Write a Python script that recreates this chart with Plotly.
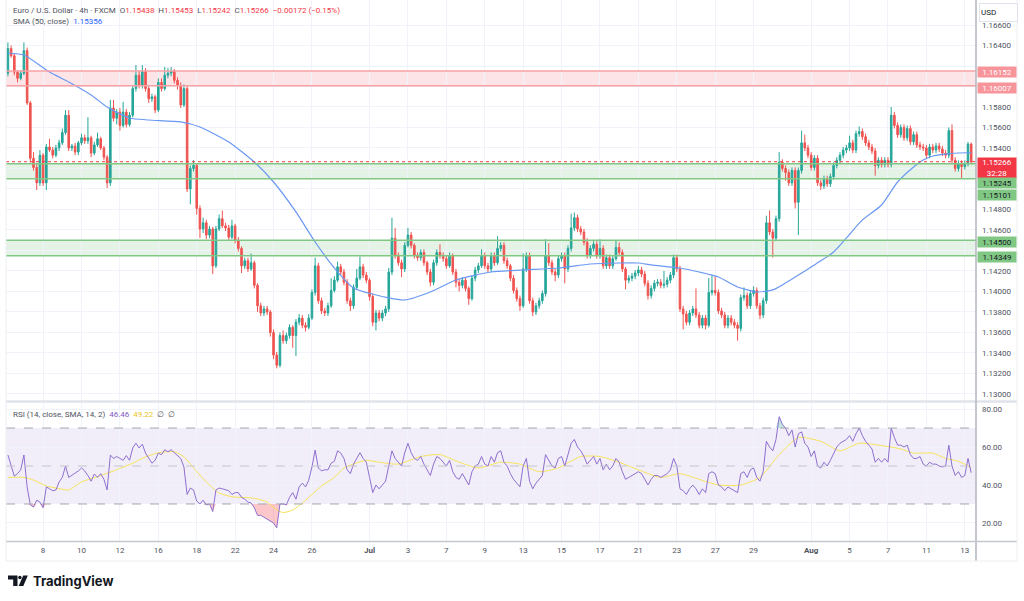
import plotly.graph_objects as go

# ---- data (EUR/USD 4h, FXCM) ----
first_open = 1.1613

closes = [
    1.1637, 1.1630, 1.1614, 1.1608, 1.1613, 1.1635, 1.1584, 1.1530, 1.1521, 1.1506,
    1.1533, 1.1506, 1.1541, 1.1538, 1.1533, 1.1540, 1.1545, 1.1555, 1.1572, 1.1540,
    1.1542, 1.1536, 1.1545, 1.1550, 1.1547, 1.1550, 1.1535, 1.1543, 1.1549, 1.1540,
    1.1531, 1.1506, 1.1579, 1.1569, 1.1575, 1.1562, 1.1575, 1.1563, 1.1572, 1.1598,
    1.1611, 1.1601, 1.1615, 1.1598, 1.1588, 1.1590, 1.1577, 1.1604, 1.1598, 1.1611,
    1.1613, 1.1615, 1.1606, 1.1601, 1.1582, 1.1598, 1.1500, 1.1520, 1.1523, 1.1481,
    1.1461, 1.1467, 1.1455, 1.1461, 1.1425, 1.1461, 1.1471, 1.1464, 1.1462, 1.1453,
    1.1464, 1.1450, 1.1442, 1.1425, 1.1430, 1.1422, 1.1428, 1.1406, 1.1386, 1.1379,
    1.1383, 1.1380, 1.1360, 1.1338, 1.1328, 1.1357, 1.1352, 1.1357, 1.1365, 1.1357,
    1.1370, 1.1374, 1.1367, 1.1365, 1.1374, 1.1399, 1.1425, 1.1391, 1.1381, 1.1379,
    1.1386, 1.1401, 1.1411, 1.1424, 1.1419, 1.1409, 1.1391, 1.1386, 1.1404, 1.1413,
    1.1424, 1.1416, 1.1411, 1.1395, 1.1370, 1.1379, 1.1374, 1.1379, 1.1383, 1.1419,
    1.1452, 1.1435, 1.1428, 1.1422, 1.1445, 1.1455, 1.1445, 1.1435, 1.1433, 1.1438,
    1.1428, 1.1419, 1.1409, 1.1428, 1.1438, 1.1435, 1.1432, 1.1425, 1.1435, 1.1419,
    1.1409, 1.1406, 1.1411, 1.1403, 1.1393, 1.1413, 1.1421, 1.1425, 1.1435, 1.1425,
    1.1422, 1.1435, 1.1428, 1.1442, 1.1445, 1.1430, 1.1425, 1.1413, 1.1401, 1.1393,
    1.1386, 1.1422, 1.1435, 1.1391, 1.1380, 1.1386, 1.1391, 1.1398, 1.1435, 1.1428,
    1.1419, 1.1416, 1.1432, 1.1435, 1.1422, 1.1442, 1.1462, 1.1472, 1.1461, 1.1458,
    1.1448, 1.1435, 1.1442, 1.1446, 1.1435, 1.1442, 1.1425, 1.1433, 1.1425, 1.1432,
    1.1443, 1.1438, 1.1422, 1.1411, 1.1413, 1.1415, 1.1418, 1.1421, 1.1417, 1.1408,
    1.1396, 1.1403, 1.1408, 1.1409, 1.1406, 1.1407, 1.1411, 1.1416, 1.1433, 1.1422,
    1.1383, 1.1378, 1.1370, 1.1379, 1.1383, 1.1377, 1.1367, 1.1374, 1.1367, 1.1399,
    1.1401, 1.1399, 1.1381, 1.1377, 1.1367, 1.1374, 1.1370, 1.1367, 1.1364, 1.1394,
    1.1396, 1.1386, 1.1398, 1.1401, 1.1386, 1.1377, 1.1391, 1.1467, 1.1458, 1.1452,
    1.1471, 1.1526, 1.1520, 1.1516, 1.1506, 1.1518, 1.1487, 1.1518, 1.1545, 1.1540,
    1.1533, 1.1521, 1.1530, 1.1506, 1.1503, 1.1510, 1.1505, 1.1512, 1.1523, 1.1528,
    1.1533, 1.1538, 1.1540, 1.1545, 1.1538, 1.1554, 1.1556, 1.1551, 1.1545, 1.1541,
    1.1537, 1.1523, 1.1528, 1.1524, 1.1528, 1.1524, 1.1572, 1.1562, 1.1553, 1.1560,
    1.1550, 1.1559, 1.1546, 1.1553, 1.1543, 1.1541, 1.1540, 1.1533, 1.1541, 1.1538,
    1.1542, 1.1539, 1.1535, 1.1533, 1.1557, 1.1528, 1.1520, 1.1525, 1.1522, 1.1525,
    1.15438, 1.15266,
]

# upper / lower wick length in pips beyond the candle body
wick_up = [
    6, 3, 2, 2, 3, 8, 3, 2, 6, 4,   5, 2, 3, 8, 3, 3, 3, 4, 5, 5,
    2, 3, 2, 4, 3, 20, 2, 3, 6, 2,  2, 2, 8, 8, 3, 4, 10, 3, 3, 3,
    10, 4, 6, 3, 2, 3, 2, 4, 4, 8,  5, 4, 2, 3, 3, 4, 3, 3, 5, 2,
    3, 5, 3, 3, 2, 3, 4, 8, 3, 3,   6, 2, 3, 2, 3, 3, 9, 2, 2, 3,
    3, 3, 2, 3, 3, 3, 5, 3, 3, 2,   3, 4, 3, 3, 4, 3, 8, 3, 3, 3,
    3, 12, 4, 5, 3, 3, 3, 3, 3, 9,  10, 3, 3, 2, 3, 3, 3, 3, 3, 4,
    20, 10, 3, 3, 3, 7, 3, 2, 3, 3, 3, 2, 3, 3, 3, 8, 3, 3, 3, 2,
    3, 3, 3, 3, 2, 3, 3, 3, 6, 3,   3, 3, 3, 12, 3, 3, 3, 2, 3, 3,
    3, 15, 3, 3, 3, 3, 3, 3, 16, 12, 3, 3, 3, 3, 3, 3, 14, 5, 3, 3,
    3, 4, 3, 3, 3, 9, 3, 3, 3, 3,   7, 5, 3, 2, 3, 3, 3, 4, 3, 3,
    3, 3, 3, 3, 3, 13, 3, 3, 3, 3,  3, 3, 3, 3, 3, 20, 3, 3, 3, 14,
    15, 14, 3, 3, 3, 3, 3, 3, 3, 3, 8, 3, 3, 4, 3, 3, 3, 7, 12, 3,
    3, 10, 3, 3, 3, 3, 3, 3, 12, 8, 3, 3, 3, 3, 3, 3, 3, 3, 3, 3,
    3, 3, 3, 7, 3, 3, 5, 3, 3, 3,   3, 3, 3, 3, 3, 3, 8, 3, 3, 3,
    3, 3, 3, 3, 3, 3, 3, 3, 3, 3,   3, 3, 3, 3, 3, 6, 3, 3, 3, 3,
    2, 1.5,
]
wick_dn = [
    3, 2, 3, 4, 2, 2, 2, 4, 3, 7,   3, 3, 7, 2, 3, 2, 3, 2, 2, 3,
    3, 3, 3, 2, 3, 3, 4, 2, 2, 2,   3, 5, 3, 3, 6, 5, 2, 3, 2, 2,
    3, 3, 3, 3, 4, 3, 3, 2, 3, 2,   3, 3, 3, 4, 3, 2, 3, 15, 3, 6,
    9, 4, 4, 3, 8, 2, 2, 2, 3, 3,   2, 3, 3, 7, 3, 3, 2, 3, 6, 3,
    3, 3, 4, 4, 3, 2, 3, 3, 3, 12,  20, 3, 3, 4, 2, 2, 3, 3, 3, 3,
    3, 2, 2, 2, 3, 3, 3, 5, 3, 2,   2, 3, 3, 4, 4, 8, 3, 3, 3, 3,
    3, 3, 3, 8, 3, 2, 3, 3, 3, 3,   3, 3, 4, 3, 3, 3, 3, 3, 2, 3,
    5, 6, 3, 3, 6, 2, 3, 3, 2, 3,   3, 3, 3, 2, 3, 3, 3, 3, 3, 3,
    5, 2, 3, 3, 4, 3, 3, 3, 3, 3,   3, 6, 3, 3, 14, 3, 3, 3, 3, 3,
    3, 3, 3, 3, 3, 3, 3, 3, 3, 3,   2, 3, 3, 9, 3, 3, 3, 3, 3, 3,
    4, 3, 3, 3, 3, 3, 3, 3, 3, 3,   3, 15, 3, 3, 3, 3, 3, 3, 4, 2,
    3, 3, 3, 3, 3, 3, 3, 3, 12, 3,  3, 3, 3, 3, 3, 4, 3, 3, 3, 19,
    3, 3, 3, 8, 3, 3, 6, 32, 3, 3,  3, 3, 3, 3, 4, 3, 3, 3, 3, 3,
    3, 3, 3, 3, 3, 3, 3, 3, 3, 3,   3, 10, 3, 3, 3, 3, 3, 3, 3, 3,
    3, 3, 3, 3, 3, 3, 3, 3, 3, 3,   3, 3, 3, 3, 3, 3, 3, 3, 12, 3,
    3, 2.4,
]

# SMA(50) read at points along the blue line (bar index, price)
sma_x = [0, 5, 13, 19, 26, 31, 38, 44, 54, 60, 69, 77, 83, 90, 96, 102, 108, 119, 124, 132,
         140, 151, 161, 172, 182, 191, 197, 201, 210, 216, 222, 228, 234, 239, 243, 246, 252, 258, 262, 267,
         273, 278, 283, 286, 289, 293, 297, 301]
sma_v = [1.16327, 1.16307, 1.16141, 1.16044, 1.15917, 1.15800, 1.15693, 1.15673, 1.15654, 1.15605,
         1.15459, 1.15263, 1.15068, 1.14776, 1.14483, 1.14229, 1.14034, 1.13937, 1.13917, 1.13995,
         1.14112, 1.14190, 1.14210, 1.14229, 1.14268, 1.14278, 1.14278, 1.14259, 1.14229, 1.14190,
         1.14141, 1.14044, 1.13995, 1.14015, 1.14083, 1.14141, 1.14259, 1.14385, 1.14522, 1.14698,
         1.14844, 1.15068, 1.15215, 1.15283, 1.15322, 1.15341, 1.15351, 1.15356]

# RSI(14), one value per bar
rsi = [
    55.8, 50, 44.7, 46, 48, 55.8, 39, 29.5, 28.4, 32,   31, 28, 39, 38, 37, 37.4, 41.6, 44, 50, 44,
    45, 46, 47.4, 49, 47.4, 45, 42, 45.8, 44, 46,       43, 37.4, 55.8, 54, 55, 54, 53, 55.5, 53, 59.5,
    62, 59.5, 61.5, 56.8, 54, 51.5, 53, 56.8, 56, 58.6, 57.5, 58.6, 57, 55.5, 54, 49.5, 35, 38.4, 37.4, 31.5,
    30, 32, 29.5, 30, 26, 37.4, 38.4, 38, 37.4, 37,     35, 36, 36, 33.5, 32.5, 31, 30.5, 28, 24, 24,
    23, 22, 21, 20, 17.4, 30, 30, 29.5, 33.5, 36,       32.5, 39, 41, 39, 42.5, 49.5, 58.4, 48.9, 47.5, 48,
    48, 51.5, 52.5, 58, 56.8, 54, 48, 46, 51, 54,       57, 54, 52, 44, 36, 40, 38, 40, 42, 50,
    58, 54, 52, 50, 57, 62, 57, 54, 53, 55,             51, 48, 45, 51, 55, 54, 52, 50, 53, 47,
    44, 43, 46, 43, 40, 47, 50, 51, 55, 51,             50, 55, 52, 57, 58, 52, 50, 46, 43, 41,
    39, 50, 54, 42, 38, 41, 43, 45, 56, 53,             50, 49, 54, 55, 50, 56, 62, 64, 60, 58,
    55, 51, 53, 55, 51, 54, 48, 51, 48, 50,             54, 52, 47, 43, 44, 45, 46, 47, 46, 43,
    40, 43, 45, 45, 44, 45, 46, 48, 54, 50,             38, 37, 35, 38, 40, 38, 35, 38, 36, 46,
    47, 46, 40, 39, 37, 39, 38, 37, 36, 46,             47, 44, 48, 49, 44, 42, 47, 63, 60, 58,
    64, 76, 72, 70, 66, 69, 60, 67, 68, 62,             60, 55, 58, 50, 49, 52, 50, 53, 57, 60,
    62, 63, 64, 66, 63, 67, 70, 66, 63, 61,             59, 52, 54, 52, 54, 52, 70, 65, 61, 61,
    60, 61, 56, 54, 54, 55, 51, 50, 52, 51,             51, 50, 49.5, 50, 61, 50, 45, 47, 44, 45,
    54, 46.46,
]

# RSI-based SMA (yellow) read at points
sig_x = [0, 5, 8, 12, 15, 19, 23, 29, 33, 39, 43, 47, 52, 55, 58, 62, 66, 70, 77, 81,
         84, 86, 89, 92, 95, 98, 102, 105, 107, 112, 116, 122, 129, 135, 141, 147, 154, 160, 166, 172,
         179, 185, 191, 197, 204, 210, 216, 222, 229, 235, 241, 247, 254, 260, 266, 272, 279, 283, 289, 293,
         297, 301]
sig_v = [44, 44, 42.6, 39.5, 38.4, 37.4, 41.6, 45, 47.4, 51.5, 54.8, 57, 57.5, 54.8, 49, 41.6, 35.8, 33.8, 33, 31,
         26.8, 25.5, 26.8, 30.5, 35, 39.5, 44, 49, 50.5, 53, 52, 51, 55, 56, 52, 49, 52, 51, 47, 49,
         55, 55, 52, 48, 44, 46, 43, 40, 40, 44, 56, 65, 63, 58, 62, 61, 59, 56.8, 56.8, 54,
         52.5, 49.22]

# x-axis labels (bar index of each label)
tick_idx = [11, 23, 35, 47, 59, 71, 83, 95, 113, 125, 137, 149, 161, 173, 185, 197, 209, 221, 233,
            251, 263, 275, 287, 299]
tick_txt = ['8', '10', '12', '16', '18', '22', '24', '26', '<b>Jul</b>', '3', '7', '9', '13', '15', '17',
            '21', '23', '27', '29', '<b>Aug</b>', '5', '7', '11', '13']

# price scale: labels hidden behind the coloured price tags are left blank
price_ticks = [1.130, 1.132, 1.134, 1.136, 1.138, 1.140, 1.142, 1.144, 1.146, 1.148,
               1.150, 1.152, 1.154, 1.156, 1.158, 1.160, 1.162, 1.164, 1.166]
hidden_ticks = [1.144, 1.150, 1.152, 1.162]

red_zone = (1.16007, 1.16152)
green_zones = [(1.15101, 1.15245), (1.14349, 1.14500)]
sma_last = 1.15356
sig_last = 49.22
countdown = '32:28'

# ---- build OHLC ----
n = len(closes)
bars = list(range(n))
opens = [first_open] + closes[:-1]
highs = [max(o, c) + u * 1e-4 for o, c, u in zip(opens, closes, wick_up)]
lows = [min(o, c) - d * 1e-4 for o, c, d in zip(opens, closes, wick_dn)]

# ---- page geometry ----
W, H = 1024, 601
ML, MR, MT, MB = 6, 48, 0, 60
PW, PH = W - ML - MR, H - MT - MB


def px(x):
    return (x - ML) / PW


def py(y):
    return (PH - y) / PH


UP, DN = '#26a69a', '#ef5350'
GRID = '#f0f3fa'
AXT = '#50535e'
FONT = 'Roboto, Open Sans, sans-serif'
X_RANGE = [-0.6, 302.5]

fig = go.Figure()

fig.add_trace(go.Candlestick(
    x=bars, open=opens, high=highs, low=lows, close=closes,
    increasing=dict(line=dict(color=UP, width=1), fillcolor=UP),
    decreasing=dict(line=dict(color=DN, width=1), fillcolor=DN),
    whiskerwidth=0, hoverinfo='skip', xaxis='x', yaxis='y'))

fig.add_trace(go.Scatter(x=sma_x, y=sma_v, mode='lines', xaxis='x', yaxis='y',
                         line=dict(color='#6b98f2', width=1.2, shape='spline', smoothing=0.6),
                         hoverinfo='skip'))

# RSI oversold / overbought fills
fig.add_trace(go.Scatter(x=bars, y=[30] * n, mode='lines', line=dict(width=0),
                         xaxis='x2', yaxis='y2', hoverinfo='skip'))
fig.add_trace(go.Scatter(x=bars, y=[min(v, 30) for v in rsi], mode='lines', line=dict(width=0),
                         fill='tonexty', fillcolor='rgba(242,54,69,0.28)',
                         xaxis='x2', yaxis='y2', hoverinfo='skip'))
fig.add_trace(go.Scatter(x=bars, y=[70] * n, mode='lines', line=dict(width=0),
                         xaxis='x2', yaxis='y2', hoverinfo='skip'))
fig.add_trace(go.Scatter(x=bars, y=[max(v, 70) for v in rsi], mode='lines', line=dict(width=0),
                         fill='tonexty', fillcolor='rgba(8,153,129,0.25)',
                         xaxis='x2', yaxis='y2', hoverinfo='skip'))

fig.add_trace(go.Scatter(x=sig_x, y=sig_v, mode='lines', xaxis='x2', yaxis='y2',
                         line=dict(color='#f7e35a', width=1, shape='spline', smoothing=0.6),
                         hoverinfo='skip'))
fig.add_trace(go.Scatter(x=bars, y=rsi, mode='lines', xaxis='x2', yaxis='y2',
                         line=dict(color='#8e6fd0', width=1), hoverinfo='skip'))

shapes = []
# price zones
lo, hi = red_zone
shapes.append(dict(type='rect', xref='x domain', yref='y', x0=0, x1=1, y0=lo, y1=hi,
                   fillcolor='rgba(242,54,69,0.13)', line=dict(width=0), layer='below'))
for lvl in red_zone:
    shapes.append(dict(type='line', xref='x domain', yref='y', x0=0, x1=1, y0=lvl, y1=lvl,
                       line=dict(color='#f7a1a5', width=1.5)))
for lo, hi in green_zones:
    shapes.append(dict(type='rect', xref='x domain', yref='y', x0=0, x1=1, y0=lo, y1=hi,
                       fillcolor='rgba(76,175,80,0.15)', line=dict(width=0), layer='below'))
    for lvl in (lo, hi):
        shapes.append(dict(type='line', xref='x domain', yref='y', x0=0, x1=1, y0=lvl, y1=lvl,
                           line=dict(color='#81c784', width=1.5)))
shapes.append(dict(type='line', xref='x domain', yref='y', x0=0, x1=1,
                   y0=closes[-1], y1=closes[-1], line=dict(color='#f23645', width=1, dash='dot')))

# RSI band and levels
shapes.append(dict(type='rect', xref='x2 domain', yref='y2', x0=0, x1=1, y0=30, y1=70,
                   fillcolor='rgba(126,87,194,0.10)', line=dict(width=0), layer='below'))
for lvl, col in ((70, '#a3a6af'), (50, '#c3c5cc'), (30, '#a3a6af')):
    shapes.append(dict(type='line', xref='x2 domain', yref='y2', x0=0, x1=1, y0=lvl, y1=lvl,
                       line=dict(color=col, width=1, dash='dash')))

# frame lines
shapes += [
    dict(type='line', xref='paper', yref='paper', x0=0, x1=px(1017), y0=py(401.5), y1=py(401.5),
         line=dict(color='#e0e3eb', width=2.5)),
    dict(type='line', xref='paper', yref='paper', x0=1, x1=1, y0=py(561), y1=1,
         line=dict(color='#b2b5be', width=1.5)),
    dict(type='line', xref='paper', yref='paper', x0=0, x1=px(1017), y0=py(541.5), y1=py(541.5),
         line=dict(color='#c4c7ce', width=1.5)),
    dict(type='line', xref='paper', yref='paper', x0=0, x1=px(1017), y0=py(561), y1=py(561),
         line=dict(color='#eceef2', width=1)),
    dict(type='line', xref='paper', yref='paper', x0=px(1017), x1=px(1017), y0=py(561), y1=1,
         line=dict(color='#eceef2', width=1)),
    dict(type='line', xref='paper', yref='paper', x0=0, x1=0, y0=py(561), y1=1,
         line=dict(color='#eceef2', width=1)),
]


# TradingView logo glyph
def pth(pts):
    return 'M' + ' L'.join(f'{px(a):.5f},{py(b):.5f}' for a, b in pts) + ' Z'


shapes.append(dict(type='path', xref='paper', yref='paper', fillcolor='#131722', line=dict(width=0),
                   path=pth([(8, 575.5), (17.5, 575.5), (17.5, 586), (13.2, 586), (13.2, 579.5), (8, 579.5)])))
shapes.append(dict(type='circle', xref='paper', yref='paper', fillcolor='#131722', line=dict(width=0),
                   x0=px(18.2), x1=px(21.6), y0=py(579.2), y1=py(575.8)))
shapes.append(dict(type='path', xref='paper', yref='paper', fillcolor='#131722', line=dict(width=0),
                   path=pth([(23.2, 575.5), (27.8, 575.5), (23.3, 586), (18.7, 586)])))

annotations = []


def note(text, x, y, size=8, color=AXT, **kw):
    d = dict(text=text, xref='paper', yref='paper', x=px(x), y=py(y), xanchor='left',
             yanchor='middle', showarrow=False, font=dict(family=FONT, size=size, color=color))
    d.update(kw)
    annotations.append(d)


o, h, l, c = opens[-1], highs[-1], lows[-1], closes[-1]
chg = c - opens[-1]
pct = chg / opens[-1] * 100
RED = '#f23645'
sp = '\u00a0\u00a0'
hdr = (f'Euro / U.S. Dollar · 4h · FXCM{sp}'
       f'O<span style="color:{RED}">{o:.5f}</span>{sp}'
       f'H<span style="color:{RED}">{h:.5f}</span>{sp}'
       f'L<span style="color:{RED}">{l:.5f}</span>{sp}'
       f'C<span style="color:{RED}">{c:.5f}</span>{sp}'
       f'<span style="color:{RED}">\u2212{abs(chg):.5f} (\u2212{abs(pct):.2f}%)</span>')
note(hdr, 11, 10)
note(f'SMA (50, close){sp}<span style="color:#2962ff">{sma_last:.5f}</span>', 11, 22)
note(f'RSI (14, close, SMA, 14, 2){sp}<span style="color:#7e57c2">{rsi[-1]:.2f}</span>{sp}'
     f'<span style="color:#e8c51c">{sig_last:.2f}</span>{sp}\u2205{sp}\u2205', 11, 414)

# right-scale price labels
lbl_w = 38
note('USD', 979, 12.5, color='#131722', width=35, height=15, align='left',
     bordercolor='#e0e3eb', borderwidth=1, bgcolor='white')
for val, y in ((red_zone[1], 72), (red_zone[0], 88)):
    note(f'{val:.5f}', 977, y, color='white', bgcolor='#f7959b', width=lbl_w, height=10, borderpad=0)
note(f'{closes[-1]:.5f}<br>{countdown}', 977, 167.5, color='white', bgcolor='#f23645',
     width=lbl_w, height=20, borderpad=0)
for val, y in ((green_zones[0][1], 183.5), (green_zones[0][0], 194.5),
               (green_zones[1][1], 242), (green_zones[1][0], 257)):
    note(f'{val:.5f}', 977, y, color='#131722', bgcolor='#81c784', width=lbl_w, height=10, borderpad=0)

annotations.append(dict(text='<b>TradingView</b>', xref='paper', yref='paper', x=px(31), y=py(580.5),
                        xanchor='left', yanchor='middle', showarrow=False,
                        font=dict(family='Inter, Roboto, sans-serif', size=13, color='#131722')))

price_text = ['' if any(abs(t - v) < 1e-9 for v in hidden_ticks) else f'{t:.5f}' for t in price_ticks]

fig.update_layout(
    width=W, height=H, margin=dict(l=ML, r=MR, t=MT, b=MB),
    paper_bgcolor='white', plot_bgcolor='white', showlegend=False,
    font=dict(family=FONT, size=8, color=AXT),
    xaxis=dict(domain=[0, 1], anchor='y', type='linear', range=X_RANGE, tickvals=tick_idx,
               showticklabels=False, showgrid=True, gridcolor=GRID, zeroline=False,
               rangeslider=dict(visible=False), ticks=''),
    xaxis2=dict(domain=[0, 1], anchor='y2', type='linear', range=X_RANGE, matches='x',
                tickvals=tick_idx, ticktext=tick_txt, tickfont=dict(size=8, color=AXT),
                showgrid=True, gridcolor=GRID, zeroline=False, ticks='', ticklabelstandoff=3),
    yaxis=dict(domain=[py(400), 1], anchor='x', side='right', range=[1.12941, 1.16844],
               tickvals=price_ticks, ticktext=price_text, tickfont=dict(size=8, color=AXT),
               showgrid=True, gridcolor=GRID, zeroline=False, ticks='', ticklabelstandoff=5),
    yaxis2=dict(domain=[0, py(403)], anchor='x2', side='right', range=[10.5, 83.2],
                tickvals=[20, 40, 60, 80], tickformat='.2f', tickfont=dict(size=8, color=AXT),
                showgrid=True, gridcolor=GRID, zeroline=False, ticks='', ticklabelstandoff=5),
    shapes=shapes, annotations=annotations,
)

# drop the browser's default page margin so the figure sits at the window's corner
fig.write_html('out.html', config={'displayModeBar': False},
               post_script="document.body.style.margin='0';")
